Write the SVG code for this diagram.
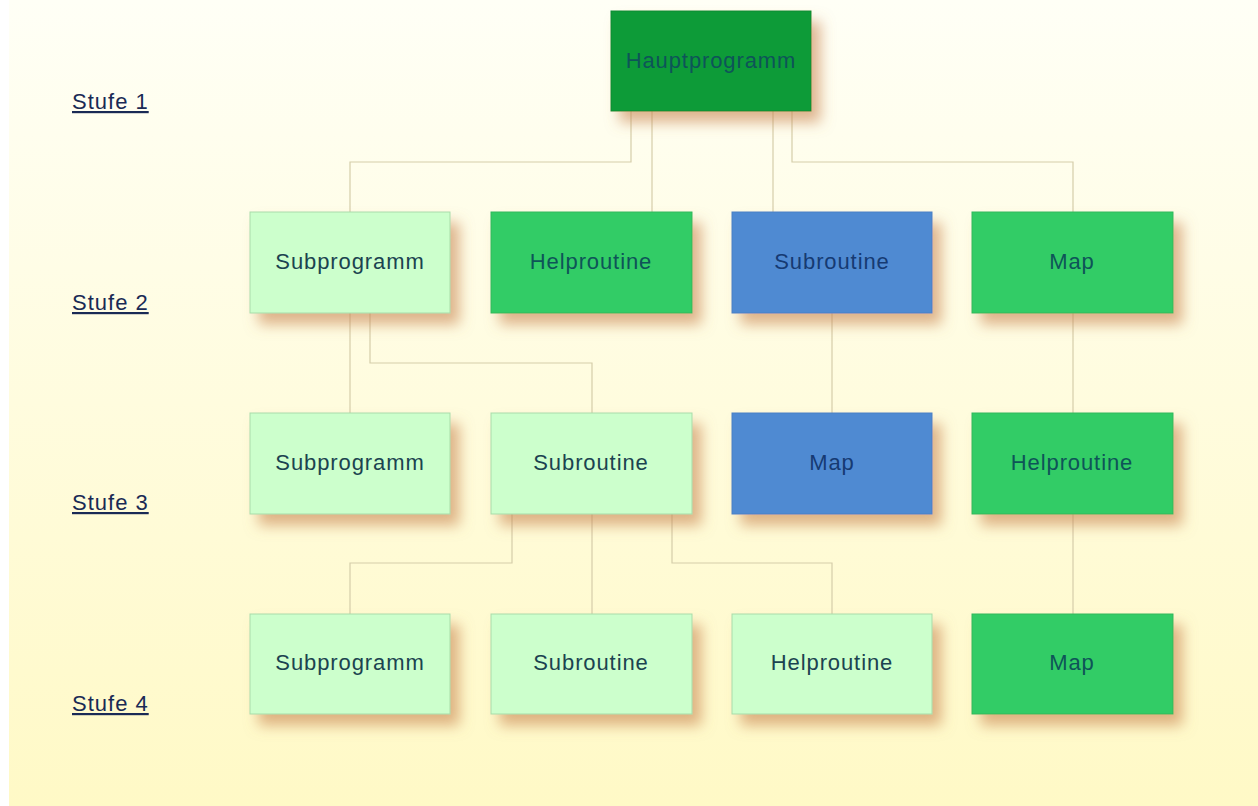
<svg xmlns="http://www.w3.org/2000/svg" width="1258" height="806" viewBox="0 0 1258 806">
<defs>
<linearGradient id="bg" x1="0" y1="0" x2="0" y2="1">
<stop offset="0" stop-color="#fffff6"/>
<stop offset="1" stop-color="#fff9c6"/>
</linearGradient>
<filter id="sh" x="-20%" y="-20%" width="150%" height="170%">
<feDropShadow dx="9" dy="11" stdDeviation="7" flood-color="#c88450" flood-opacity="0.6"/>
</filter>
</defs>
<style>
.box{stroke-width:1;filter:url(#sh)}
.light{fill:#ccffcc;stroke:#a9dca9}
.green{fill:#33cc66;stroke:#2eb85c}
.dark{fill:#0d9b38;stroke:#0a8a30}
.blue{fill:#4f8ad2;stroke:#4a80c4}
.t{font-family:"Liberation Sans",Arial,sans-serif;font-size:22px;letter-spacing:0.9px;text-anchor:middle;fill:#1b4350}
.tb{fill:#163a72}
.td{fill:#0e5458}
.lbl{font-family:"Liberation Sans",Arial,sans-serif;font-size:22px;letter-spacing:1px;fill:#1a2a55;text-decoration:underline}
.c{fill:none;stroke:#d5cdaa;stroke-width:1.2}
</style>
<rect x="0" y="0" width="1258" height="806" fill="#ffffff"/>
<rect x="9" y="0" width="1249" height="806" fill="url(#bg)"/>

<g id="labels">
<text class="lbl" x="72" y="109">Stufe 1</text>
<text class="lbl" x="72" y="310">Stufe 2</text>
<text class="lbl" x="72" y="510">Stufe 3</text>
<text class="lbl" x="72" y="711">Stufe 4</text>
</g>

<g id="connectors">
<path class="c" d="M631,111 V162 H350 V212"/>
<path class="c" d="M652,111 V212"/>
<path class="c" d="M773,111 V212"/>
<path class="c" d="M792,111 V162 H1073 V212"/>
<path class="c" d="M350,313 V413"/>
<path class="c" d="M370,313 V363 H592 V413"/>
<path class="c" d="M832,313 V413"/>
<path class="c" d="M1073,313 V413"/>
<path class="c" d="M512,514 V563 H350 V614"/>
<path class="c" d="M592,514 V614"/>
<path class="c" d="M672,514 V563 H832 V614"/>
<path class="c" d="M1073,514 V614"/>
</g>

<g id="n-hauptprogramm"><rect class="box dark" x="611" y="11" width="200" height="100"/><text class="t td" x="711" y="68">Hauptprogramm</text></g>

<g id="n-subprogramm2"><rect class="box light" x="250" y="212" width="200" height="101"/><text class="t" x="350" y="269">Subprogramm</text></g>
<g id="n-helproutine2"><rect class="box green" x="491" y="212" width="201" height="101"/><text class="t td" x="591" y="269">Helproutine</text></g>
<g id="n-subroutine2"><rect class="box blue" x="732" y="212" width="200" height="101"/><text class="t tb" x="832" y="269">Subroutine</text></g>
<g id="n-map2"><rect class="box green" x="972" y="212" width="201" height="101"/><text class="t td" x="1072" y="269">Map</text></g>

<g id="n-subprogramm3"><rect class="box light" x="250" y="413" width="200" height="101"/><text class="t" x="350" y="470">Subprogramm</text></g>
<g id="n-subroutine3"><rect class="box light" x="491" y="413" width="201" height="101"/><text class="t" x="591" y="470">Subroutine</text></g>
<g id="n-map3"><rect class="box blue" x="732" y="413" width="200" height="101"/><text class="t tb" x="832" y="470">Map</text></g>
<g id="n-helproutine3"><rect class="box green" x="972" y="413" width="201" height="101"/><text class="t td" x="1072" y="470">Helproutine</text></g>

<g id="n-subprogramm4"><rect class="box light" x="250" y="614" width="200" height="100"/><text class="t" x="350" y="670">Subprogramm</text></g>
<g id="n-subroutine4"><rect class="box light" x="491" y="614" width="201" height="100"/><text class="t" x="591" y="670">Subroutine</text></g>
<g id="n-helproutine4"><rect class="box light" x="732" y="614" width="200" height="100"/><text class="t" x="832" y="670">Helproutine</text></g>
<g id="n-map4"><rect class="box green" x="972" y="614" width="201" height="100"/><text class="t td" x="1072" y="670">Map</text></g>
</svg>
